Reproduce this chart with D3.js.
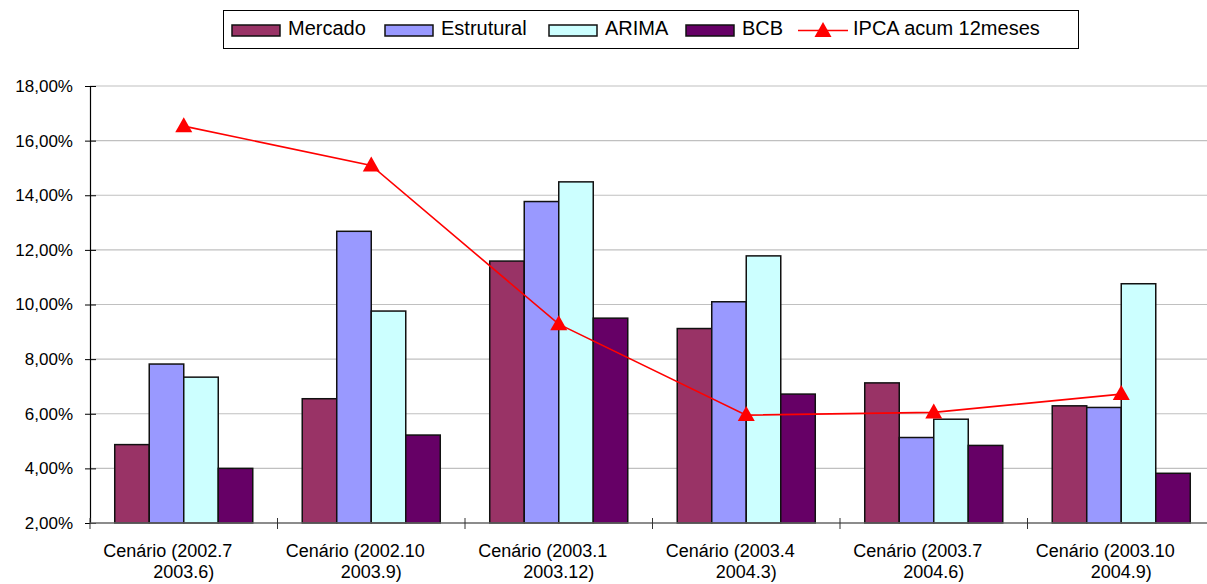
<!DOCTYPE html>
<html>
<head>
<meta charset="utf-8">
<script src="https://cdn.jsdelivr.net/npm/d3@7"></script>
<style>
  body { margin: 0; background: #fff; }
  svg { display: block; font-family: "Liberation Sans", Arial, sans-serif; }
</style>
</head>
<body>
<svg id="chart" width="1207" height="584"></svg>
<script>
// ---- data ----
const categories = [
  ["Cenário (2002.7", "2003.6)"],
  ["Cenário (2002.10", "2003.9)"],
  ["Cenário (2003.1", "2003.12)"],
  ["Cenário (2003.4", "2004.3)"],
  ["Cenário (2003.7", "2004.6)"],
  ["Cenário (2003.10", "2004.9)"]
];
const seriesNames = ["Mercado", "Estrutural", "ARIMA", "BCB"];
const mercado    = [4.87, 6.55, 11.59, 9.12, 7.13, 6.29];
const estrutural = [7.82, 12.68, 13.77, 10.10, 5.13, 6.23];
const arima      = [7.34, 9.76, 14.49, 11.78, 5.80, 10.76];
const bcb        = [4.00, 5.22, 9.50, 6.72, 4.84, 3.82];
const ipca       = [16.53, 15.09, 9.28, 5.95, 6.05, 6.72];
const lineName = "IPCA acum 12meses";
const yTicks = [2, 4, 6, 8, 10, 12, 14, 16, 18];

const colors = ["#993366", "#9999FF", "#CCFFFF", "#660066"];
const seriesValues = [mercado, estrutural, arima, bcb];

// ---- layout ----
const svg = d3.select("#chart");
const mLeft = 90, mRight = 1215, mTop = 86, mBottom = 523;
const catIds = categories.map((c, i) => i);

const x0 = d3.scaleBand().domain(catIds).range([mLeft, mRight]).padding(0);
const x1 = d3.scaleBand().domain(seriesNames).range([0, x0.bandwidth()])
  .paddingInner(0).paddingOuter(0.717);
const y = d3.scaleLinear().domain([2, 18]).range([mBottom, mTop]);

// gridlines
svg.append("g").selectAll("line").data(yTicks.filter(t => t > 2)).join("line")
  .attr("x1", mLeft).attr("x2", mRight)
  .attr("y1", d => y(d)).attr("y2", d => y(d))
  .attr("stroke", "#c0c0c0").attr("stroke-width", 1.2);

// bars
const groups = svg.append("g").selectAll("g").data(catIds).join("g")
  .attr("transform", i => `translate(${x0(i)},0)`);
groups.selectAll("rect")
  .data(i => seriesNames.map((s, k) => ({ s, k, v: seriesValues[k][i] })))
  .join("rect")
  .attr("x", d => x1(d.s))
  .attr("width", x1.bandwidth())
  .attr("y", d => y(d.v))
  .attr("height", d => y(2) - y(d.v))
  .attr("fill", d => colors[d.k])
  .attr("stroke", "#111").attr("stroke-width", 1.5);

// y axis
const yAxis = d3.axisLeft(y).tickValues(yTicks)
  .tickSize(5)
  .tickFormat(d => d3.format(".2f")(d).replace(".", ",") + "%");
const ya = svg.append("g").attr("transform", `translate(${mLeft},0)`).call(yAxis);
ya.select(".domain").attr("stroke", "#000").attr("stroke-width", 1.2);
ya.selectAll(".tick line").attr("x1", -5).attr("x2", 6).attr("stroke", "#000");
ya.selectAll(".tick text").attr("x", -17).attr("font-size", 17)
  .attr("fill", "#000").attr("font-family", "Liberation Sans, Arial, sans-serif");

// x axis
const xa = svg.append("g").attr("transform", `translate(0,${mBottom})`);
xa.append("line").attr("x1", mLeft).attr("x2", mRight).attr("y1", 0).attr("y2", 0)
  .attr("stroke", "#666").attr("stroke-width", 1.5);
xa.selectAll("line.tk").data(catIds.concat([categories.length])).join("line")
  .attr("class", "tk")
  .attr("x1", i => mLeft + i * x0.step()).attr("x2", i => mLeft + i * x0.step())
  .attr("y1", -5).attr("y2", 6).attr("stroke", "#333").attr("stroke-width", 1);
const xl = xa.selectAll("text").data(catIds).join("text")
  .attr("text-anchor", "middle")
  .attr("font-size", 18)
  .attr("fill", "#000")
  .attr("transform", i => `translate(${x0(i) + x0.bandwidth() / 2},0)`);
xl.append("tspan").attr("x", -16).attr("y", 34).text(i => categories[i][0]);
xl.append("tspan").attr("x", 0).attr("y", 55).text(i => categories[i][1]);

// line series
const cx = i => x0(i) + x0.bandwidth() / 2;
svg.append("path").datum(ipca)
  .attr("d", d3.line().x((d, i) => cx(i)).y(d => y(d)))
  .attr("fill", "none").attr("stroke", "#FF0000").attr("stroke-width", 1.6);
const tri = "M0,-9 L8.5,6 L-8.5,6 Z";
svg.append("g").selectAll("path").data(ipca).join("path")
  .attr("d", tri)
  .attr("transform", (d, i) => `translate(${cx(i)},${y(d)})`)
  .attr("fill", "#FF0000");

// legend
const lg = svg.append("g");
lg.append("rect").attr("x", 223.5).attr("y", 10.5).attr("width", 855).attr("height", 38)
  .attr("fill", "#fff").attr("stroke", "#000").attr("stroke-width", 1);
const legendX = [232, 385, 549, 686];
seriesNames.forEach((s, k) => {
  lg.append("rect").attr("x", legendX[k]).attr("y", 25).attr("width", 48).attr("height", 11)
    .attr("fill", colors[k]).attr("stroke", "#111").attr("stroke-width", 1.5);
  lg.append("text").attr("x", legendX[k] + 56).attr("y", 35)
    .attr("font-size", 20).attr("fill", "#000").text(s);
});
lg.append("line").attr("x1", 798).attr("x2", 848).attr("y1", 30.5).attr("y2", 30.5)
  .attr("stroke", "#FF0000").attr("stroke-width", 1.6);
lg.append("path").attr("d", tri).attr("transform", "translate(823,31)").attr("fill", "#FF0000");
lg.append("text").attr("x", 853).attr("y", 35).attr("font-size", 20).attr("fill", "#000").text(lineName);
</script>
</body>
</html>
